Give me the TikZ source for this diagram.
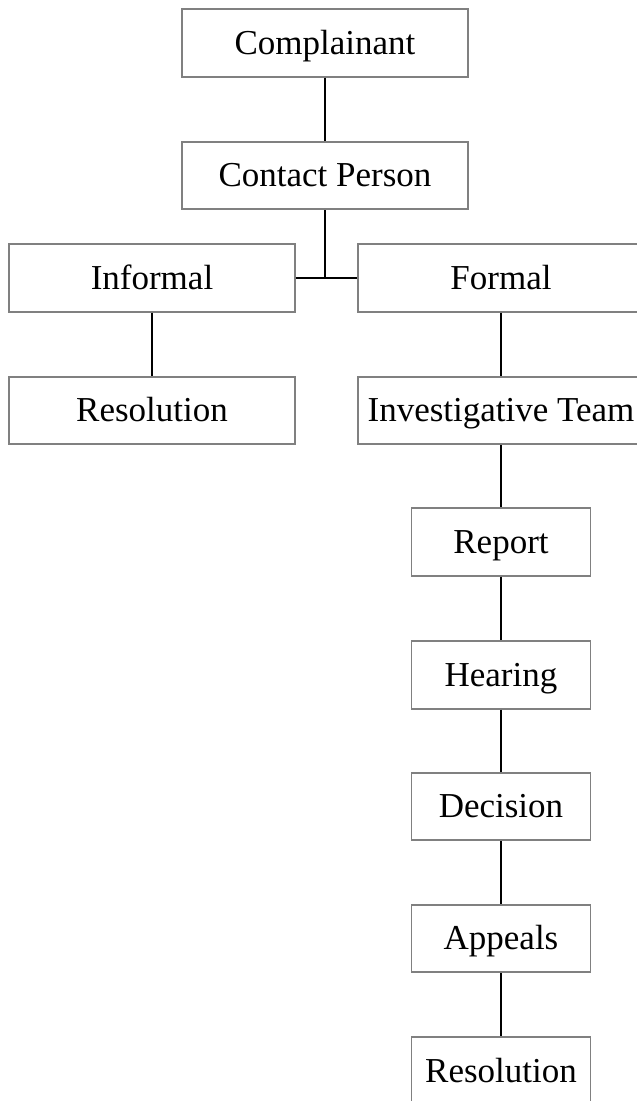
\documentclass[tikz,border=0pt]{standalone}
\usepackage{fontspec}
\setmainfont{Liberation Serif}
\begin{document}
\begin{tikzpicture}[x=1pt,y=-1pt,
  box/.style={draw=black!50,line width=1.6pt,fill=white,inner sep=0pt,
    minimum height=67.5pt,text height=24pt,text depth=2pt,
    font=\fontsize{35}{40}\selectfont},
  wide/.style={box,minimum width=286pt},
  narrow/.style={box,minimum width=179pt},
  conn/.style={draw=black,line width=1.6pt}]
\clip (0,0) rectangle (637,1101);
\useasboundingbox (0,0) rectangle (637,1101);
\node[wide] (complainant) at (325,43) {Complainant};
\node[wide] (contact) at (325,175.5) {Contact Person};
\node[wide] (informal) at (152,278) {Informal};
\node[wide] (formal) at (501,278) {Formal};
\node[wide] (resl) at (152,410.5) {Resolution};
\node[wide] (team) at (501,410.5) {Investigative Team};
\node[narrow] (report) at (501,542) {Report};
\node[narrow] (hearing) at (501,675) {Hearing};
\node[narrow] (decision) at (501,806.5) {Decision};
\node[narrow] (appeals) at (501,938.5) {Appeals};
\node[narrow] (resr) at (501,1071) {Resolution};
\coordinate (junction) at (contact.south |- informal.east);
\draw[conn] (complainant) -- (contact);
\draw[conn] (contact.south) -- (junction);
\draw[conn] (informal.east) -- (formal.west);
\draw[conn] (informal) -- (resl);
\draw[conn] (formal) -- (team);
\draw[conn] (team) -- (report);
\draw[conn] (report) -- (hearing);
\draw[conn] (hearing) -- (decision);
\draw[conn] (decision) -- (appeals);
\draw[conn] (appeals) -- (resr);
\end{tikzpicture}
\end{document}
